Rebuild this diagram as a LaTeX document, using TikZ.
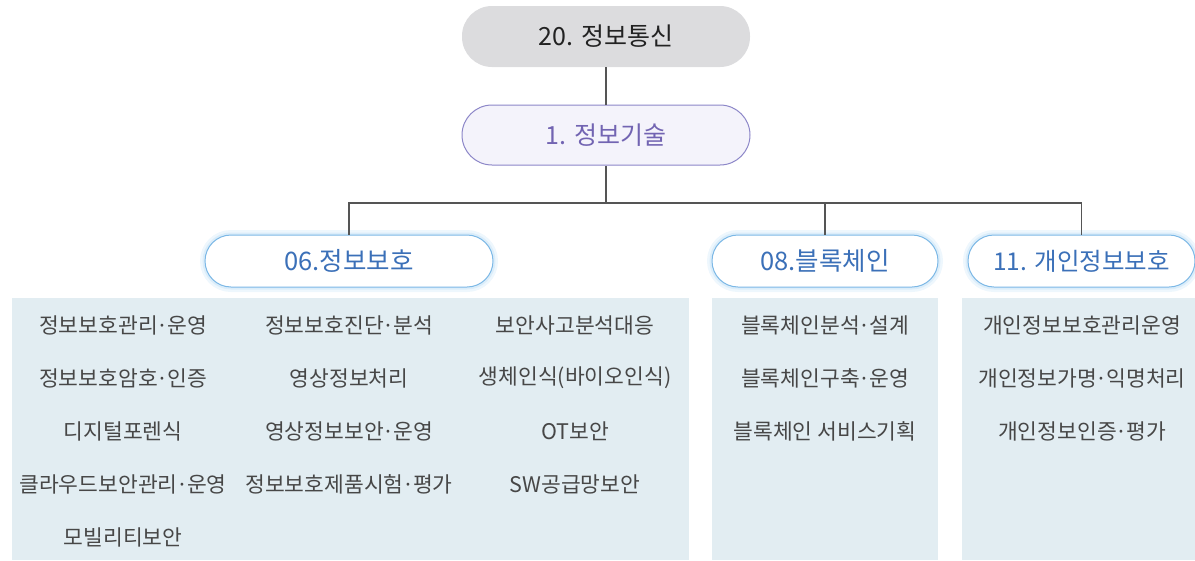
\documentclass[tikz,border=0pt]{standalone}
\usepackage{fontspec}
\setmainfont{Noto Sans CJK KR}
\usetikzlibrary{positioning}
\definecolor{wiregray}{HTML}{555555}
\definecolor{topfill}{HTML}{DCDCDE}
\definecolor{topink}{HTML}{222222}
\definecolor{itfill}{HTML}{F4F3FB}
\definecolor{itline}{HTML}{8C86C8}
\definecolor{itink}{HTML}{7264B2}
\definecolor{secline}{HTML}{7CB8E6}
\definecolor{secink}{HTML}{3B70B8}
\definecolor{secglow}{HTML}{CFE7F8}
\definecolor{panelfill}{HTML}{E2EDF2}
\definecolor{itemink}{HTML}{474747}
\newcommand{\mdot}{\kern-0.06em·\kern-0.06em}
\tikzset{
  wire/.style={draw=wiregray, line width=1.3pt},
  topbox/.style={fill=topfill, rounded corners=30pt, minimum width=288pt, minimum height=61pt,
    inner sep=0pt, text=topink, font=\fontsize{25}{29}\selectfont},
  itbox/.style={draw=itline, line width=1pt, fill=itfill, rounded corners=30pt, minimum width=288pt,
    minimum height=60pt, inner sep=0pt, text=itink, font=\fontsize{25}{29}\selectfont},
  secbox/.style={draw=secline, line width=1pt, fill=white, rounded corners=26pt, minimum height=52pt,
    inner sep=0pt, text=secink, font=\fontsize{25.5}{29}\selectfont,
    preaction={draw=secglow, line width=10pt, opacity=0.35},
    preaction={draw=secglow, line width=5pt, opacity=0.6}},
  panel/.style={fill=panelfill},
  item/.style={text=itemink, inner sep=1pt, font=\fontsize{21.5}{25}\selectfont}
}
\begin{document}
\begin{tikzpicture}[x=1pt,y=-1pt]
  \useasboundingbox (0,0) rectangle (1195,560);
  % panels
  \fill[panel] (12,298) rectangle (689,560);
  \fill[panel] (712,298) rectangle (938,560);
  \fill[panel] (962,298) rectangle (1195,560);
  % tree
  \node[topbox] (tel) at (606,36.5) {20. 정보통신};
  \node[itbox] (it) at (606,135) {1. 정보기술};
  \node[secbox, minimum width=288pt] (sec) at (349,261) {06.정보보호};
  \node[secbox, minimum width=226pt] (blk) at (825,261) {08.블록체인};
  \node[secbox, minimum width=227pt, font=\fontsize{24.5}{29}\selectfont] (priv) at (1081.5,261) {11. 개인정보보호};
  \coordinate (bar) at (606,203);
  \draw[wire] (tel) -- (it);
  \draw[wire] (it) -- (bar);
  \draw[wire] (sec.north) |- (bar) -| (priv.north);
  \draw[wire] (bar) -| (blk.north);
  % 06 items
  \node[item] (s11) at (123,325) {정보보호관리\mdot 운영};
  \node[item] (s12) at (123,378) {정보보호암호\mdot 인증};
  \node[item] (s13) at (123,431) {디지털포렌식};
  \node[item] (s14) at (123,484) {클라우드보안관리\mdot 운영};
  \node[item] (s15) at (123,537) {모빌리티보안};
  \node[item] (s21) at (349,325) {정보보호진단\mdot 분석};
  \node[item] (s22) at (349,378) {영상정보처리};
  \node[item] (s23) at (349,431) {영상정보보안\mdot 운영};
  \node[item] (s24) at (349,484) {정보보호제품시험\mdot 평가};
  \node[item] (s31) at (575,325) {보안사고분석대응};
  \node[item] (s32) at (575,378) {생체인식(바이오인식)};
  \node[item] (s33) at (575,431) {OT보안};
  \node[item] (s34) at (575,484) {SW공급망보안};
  % 08 items
  \node[item] (b1) at (825,325) {블록체인분석\mdot 설계};
  \node[item] (b2) at (825,378) {블록체인구축\mdot 운영};
  \node[item] (b3) at (825,431) {블록체인 서비스기획};
  % 11 items
  \node[item] (p1) at (1082,325) {개인정보보호관리운영};
  \node[item] (p2) at (1082,378) {개인정보가명\mdot 익명처리};
  \node[item] (p3) at (1082,431) {개인정보인증\mdot 평가};
\end{tikzpicture}
\end{document}
